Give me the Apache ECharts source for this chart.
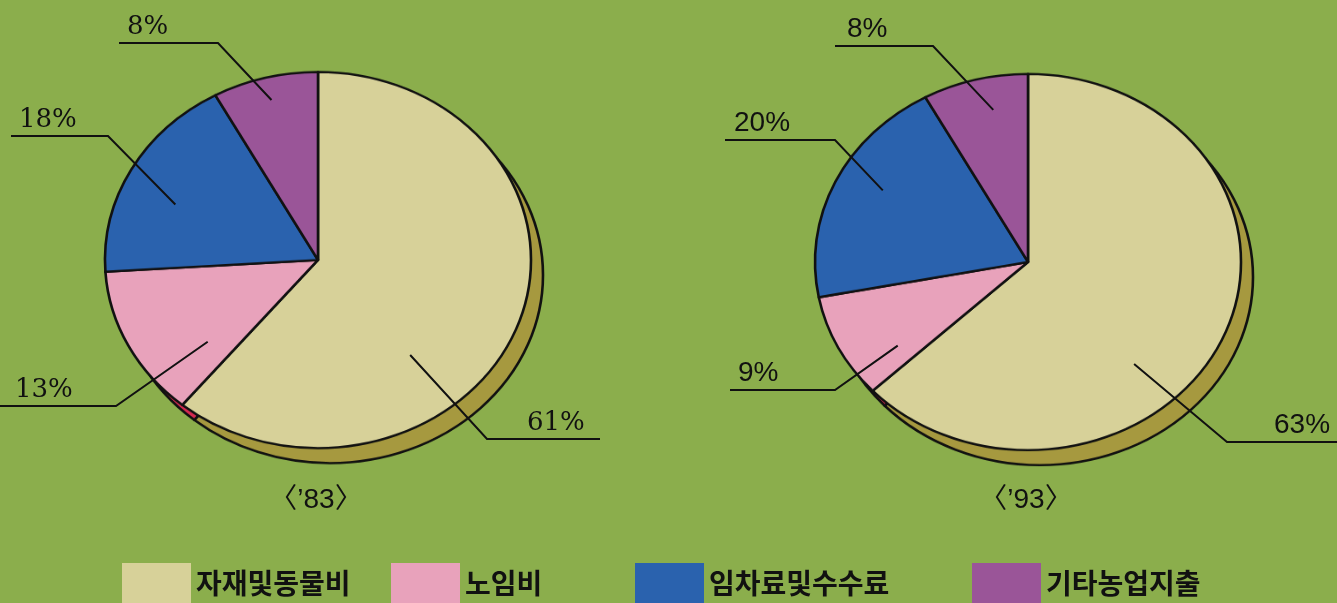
<!DOCTYPE html>
<html>
<head>
<meta charset="utf-8">
<script src="https://cdn.jsdelivr.net/npm/echarts/dist/echarts.min.js"></script>
<style>
html, body { margin: 0; padding: 0; background: #8bae4c; overflow: hidden; }
#wrap { position: relative; width: 1337px; height: 603px; }
#pies { position: absolute; left: 0; top: 0; width: 1337px; height: 683px; transform: scaleY(0.883); transform-origin: 0 0; }
#labels { position: absolute; left: 0; top: 0; width: 1337px; height: 603px; }
</style>
</head>
<body>
<div id="wrap"><div id="pies"></div><div id="labels"></div></div>
<script>
// data
const categories = ['자재및동물비', '노임비', '임차료및수수료', '기타농업지출'];
const values83 = [61, 13, 18, 8];
const values93 = [63, 9, 20, 8];
const yearLabels = ['〈’83〉', '〈’93〉'];

// look
const K = 0.883;            // ellipse squash (vertical / horizontal)
const R = 213;
const centers = [[318, 260], [1028, 262]];
const shadowOff = [12, 15];
const fill = ['#d7d199', '#e8a2bb', '#2a62ae', '#9a5598'];
const side = ['#a6993f', '#d42a50', '#1d4a85', '#6e3d6e'];
const ink = '#111';

// where each label line bends and ends, text anchor (d = angle shift, f = radius share of start point)
const labelPlaces = [
    [
        { d: 29.6, f: 0.665, elbow: [487, 439], end: [600, 439], text: [527, 436] },
        { d: -13, f: 0.676, elbow: [116, 406], end: [0, 406], text: [15, 403] },
        { d: -5, f: 0.732, elbow: [108, 136], end: [11, 136], text: [19, 133] },
        { d: 0, f: 0.878, elbow: [218, 43], end: [119, 43], text: [127, 40] }
    ],
    [
        { d: 24, f: 0.736, elbow: [1227, 442], end: [1337, 442], text: [1274, 439] },
        { d: -9, f: 0.756, elbow: [835, 390], end: [730, 390], text: [738, 387] },
        { d: 4, f: 0.781, elbow: [835, 140], end: [725, 140], text: [734, 137] },
        { d: 3, f: 0.825, elbow: [933, 46], end: [835, 46], text: [847, 43] }
    ]
];

function pieSeries(values, c, colors, off) {
    return {
        type: 'pie',
        radius: R,
        center: [c[0] + off[0], (c[1] + off[1]) / K],
        startAngle: 90,
        clockwise: true,
        silent: true,
        label: { show: false },
        labelLine: { show: false },
        itemStyle: { borderColor: ink, borderWidth: 2.6 },
        data: values.map((v, i) => ({ name: categories[i], value: v, itemStyle: { color: colors[i] } }))
    }
}

const pies = echarts.init(document.getElementById('pies'))
pies.setOption({
    animation: false,
    backgroundColor: '#8bae4c',
    series: [
        pieSeries(values83, centers[0], side, shadowOff),
        pieSeries(values93, centers[1], side, shadowOff),
        pieSeries(values83, centers[0], fill, [0, 0]),
        pieSeries(values93, centers[1], fill, [0, 0])
    ]
})

function labelSeries(values, idx, font, size) {
    const c = centers[idx]
    const total = values.reduce((a, b) => a + b, 0)
    return {
        type: 'pie',
        radius: R,
        center: c,
        startAngle: 90,
        clockwise: true,
        silent: true,
        avoidLabelOverlap: false,
        itemStyle: { color: 'rgba(0,0,0,0)' },
        label: {
            show: true,
            position: 'outside',
            formatter: '{c}%',
            color: ink,
            fontSize: size,
            fontFamily: font
        },
        labelLine: { show: true, lineStyle: { color: ink, width: 2 } },
        labelLayout: function (p) {
            const L = labelPlaces[idx][p.dataIndex]
            let a
            const q = p.labelLinePoints && p.labelLinePoints[0]
            if (q) {
                a = Math.atan2(q[0] - c[0], -(q[1] - c[1]))
            } else {
                let cum = 0
                for (let i = 0; i < p.dataIndex; i++) cum += values[i]
                a = (cum + values[p.dataIndex] / 2) / total * Math.PI * 2
            }
            a += L.d * Math.PI / 180
            const start = [c[0] + L.f * R * Math.sin(a), c[1] - L.f * R * K * Math.cos(a)]
            return {
                x: L.text[0],
                y: L.text[1],
                align: 'left',
                verticalAlign: 'bottom',
                labelLinePoints: [start, L.elbow, L.end]
            }
        },
        data: values.map((v, i) => ({ name: categories[i], value: v }))
    }
}

const legendLeft = [122, 391, 635, 972]

const labels = echarts.init(document.getElementById('labels'))
labels.setOption({
    animation: false,
    title: yearLabels.map((t, i) => ({
        text: t,
        left: centers[i][0] - 2,
        top: 486,
        padding: 0,
        textAlign: 'center',
        textStyle: { fontSize: 28, fontWeight: 'normal', color: ink, fontFamily: 'Liberation Sans, Noto Sans CJK KR' }
    })),
    legend: categories.map((n, i) => ({
        data: [{ name: n, itemStyle: { color: fill[i], opacity: 1 } }],
        left: legendLeft[i],
        top: 563,
        padding: 0,
        itemWidth: 69,
        itemHeight: 40,
        icon: 'rect',
        selectedMode: false,
        textStyle: { fontSize: 28, fontWeight: 'bold', color: ink, fontFamily: 'Noto Sans CJK KR' }
    })),
    series: [
        labelSeries(values83, 0, 'DejaVu Serif', 26),
        labelSeries(values93, 1, 'Liberation Sans', 28)
    ]
})
</script>
</body>
</html>
